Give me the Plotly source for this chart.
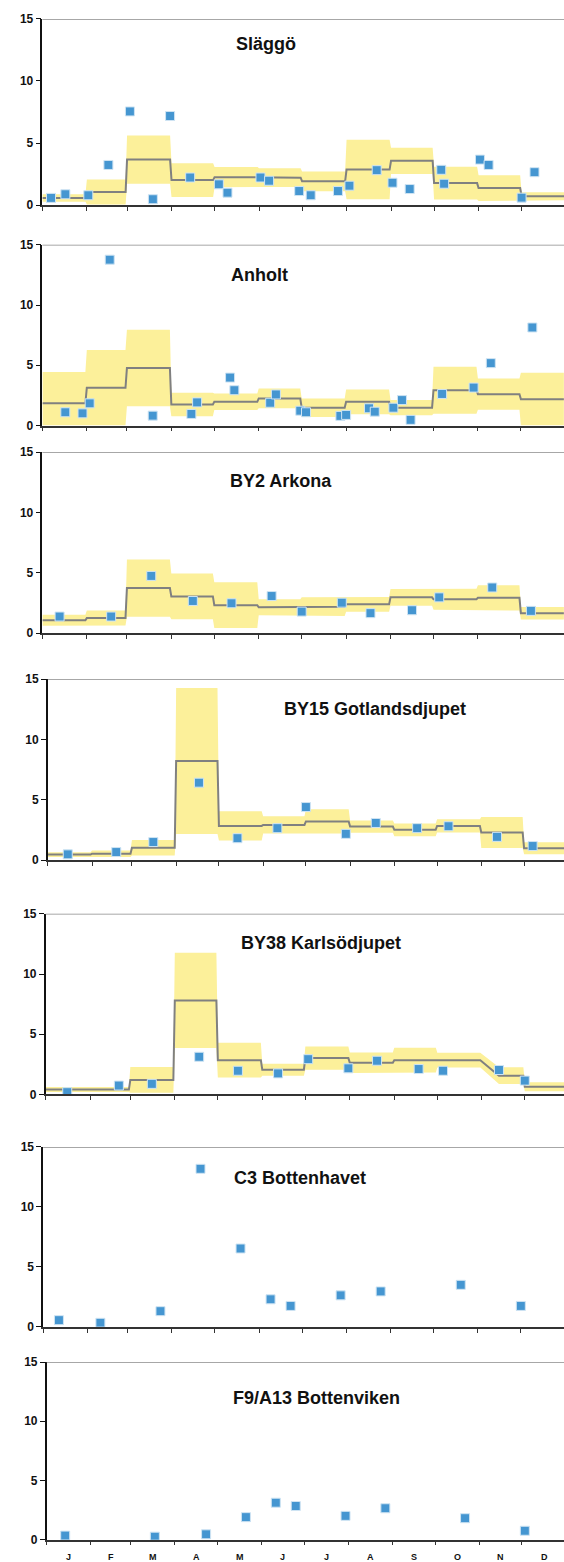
import plotly.graph_objects as go

# Day-of-year (0 = 1 Jan) at the start of each month; 365 closes December
MONTH_START = [0, 31, 59, 90, 120, 151, 181, 212, 243, 273, 304, 334, 365]
MONTH_LETTERS = ["J", "F", "M", "A", "M", "J", "J", "A", "S", "O", "N", "D"]

STATIONS = ["Släggö", "Anholt", "BY2 Arkona", "BY15 Gotlandsdjupet",
            "BY38 Karlsödjupet", "C3 Bottenhavet", "F9/A13 Bottenviken"]

# ---- Släggö ----
slaggo_day = [6, 16, 32, 46, 61, 77, 89, 103, 123, 129, 152, 158, 179, 187, 206,
              214, 233, 244, 256, 278, 280, 305, 311, 334, 343]
slaggo_val = [0.59, 0.88, 0.80, 3.24, 7.55, 0.48, 7.18, 2.23, 1.68, 1.01, 2.23, 1.97,
              1.14, 0.80, 1.14, 1.57, 2.82, 1.81, 1.30, 2.85, 1.73, 3.67, 3.24, 0.61, 2.66]
slaggo_mean = [0.58, 1.06, 3.67, 2.02, 2.26, 2.22, 1.92, 2.87, 3.57, 1.78, 1.38, 0.72]
slaggo_sd = [0.31, 1.00, 1.95, 1.36, 0.81, 0.75, 0.80, 2.40, 1.06, 1.32, 1.04, 0.32]

# ---- Anholt ----
anholt_day = [16, 28, 33, 47, 77, 104, 108, 131, 134, 159, 163, 180, 184, 208, 212,
              228, 232, 245, 251, 257, 279, 301, 313, 342]
anholt_val = [1.10, 1.01, 1.84, 13.77, 0.82, 0.96, 1.92, 3.98, 2.93, 1.89, 2.58, 1.23,
              1.10, 0.80, 0.88, 1.43, 1.15, 1.48, 2.11, 0.47, 2.62, 3.15, 5.18, 8.14]
anholt_mean = [1.84, 3.13, 4.77, 1.75, 1.97, 2.25, 1.48, 1.97, 1.48, 2.93, 2.60, 2.19]
anholt_sd = [2.60, 3.15, 3.18, 0.98, 0.69, 0.82, 0.77, 1.03, 0.63, 1.95, 1.30, 2.20]

# ---- BY2 Arkona ----
arkona_day = [12, 48, 76, 105, 132, 160, 181, 209, 229, 258, 277, 314, 341]
arkona_val = [1.37, 1.37, 4.74, 2.66, 2.47, 3.07, 1.78, 2.52, 1.65, 1.89, 2.96, 3.78, 1.84]
arkona_mean = [1.06, 1.24, 3.73, 3.04, 2.31, 2.14, 2.19, 2.38, 2.96, 2.80, 2.92, 1.65]
arkona_sd = [0.45, 0.62, 2.37, 1.90, 1.90, 0.67, 0.77, 0.62, 0.70, 0.87, 1.05, 0.52]

# ---- BY15 Gotlandsdjupet ----
gotland_day = [14, 48, 74, 106, 133, 161, 181, 209, 230, 259, 281, 315, 340]
gotland_val = [0.49, 0.68, 1.51, 6.43, 1.83, 2.66, 4.41, 2.19, 3.09, 2.66, 2.82, 1.94, 1.18]
gotland_mean = [0.47, 0.55, 1.04, 8.22, 2.85, 2.93, 3.22, 2.79, 2.52, 2.85, 2.30, 1.00]
gotland_sd = [0.20, 0.27, 0.64, 6.05, 1.22, 0.72, 1.01, 0.50, 0.53, 0.55, 1.28, 0.50]

# ---- BY38 Karlsödjupet ----
karlso_day = [15, 51, 74, 107, 134, 162, 183, 211, 231, 260, 277, 316, 334]
karlso_val = [0.19, 0.74, 0.88, 3.13, 1.97, 1.75, 2.93, 2.17, 2.80, 2.11, 1.97, 2.03, 1.15]
karlso_mean = [0.41, 0.41, 1.21, 7.81, 2.85, 2.06, 3.02, 2.64, 2.85, 2.85, 1.56, 0.64]
karlso_sd = [0.20, 0.20, 1.07, 3.95, 1.44, 0.50, 0.96, 0.85, 1.02, 0.62, 0.69, 0.37]
karlso_nov_start = 316  # November climatology begins mid-month

# ---- C3 Bottenhavet (observations only) ----
bottenhavet_day = [11, 40, 82, 110, 138, 159, 173, 208, 236, 292, 334]
bottenhavet_val = [0.55, 0.33, 1.30, 13.18, 6.53, 2.29, 1.74, 2.62, 2.95, 3.50, 1.74]

# ---- F9/A13 Bottenviken (observations only) ----
bottenviken_day = [13, 76, 112, 140, 161, 175, 210, 238, 294, 336]
bottenviken_val = [0.34, 0.25, 0.45, 1.90, 3.12, 2.84, 2.01, 2.65, 1.81, 0.75]

series = [
    (slaggo_day, slaggo_val, slaggo_mean, slaggo_sd, {}),
    (anholt_day, anholt_val, anholt_mean, anholt_sd, {}),
    (arkona_day, arkona_val, arkona_mean, arkona_sd, {}),
    (gotland_day, gotland_val, gotland_mean, gotland_sd, {}),
    (karlso_day, karlso_val, karlso_mean, karlso_sd, {10: karlso_nov_start}),
    (bottenhavet_day, bottenhavet_val, None, None, {}),
    (bottenviken_day, bottenviken_val, None, None, {}),
]

# Panel frames in page pixels: left edge, px per day, y of 15, y of 0
FIG_W, FIG_H = 564, 1562
panels = [
    (42.4, 1.4347, 12.0, 200.0),
    (42.4, 1.4326, 240.0, 422.3),
    (42.4, 1.4326, 449.3, 631.7),
    (47.8, 1.4260, 678.3, 861.0),
    (45.7, 1.4344, 915.0, 1097.3),
    (43.2, 1.4300, 1150.3, 1331.7),
    (46.7, 1.4230, 1367.3, 1546.5),
]
title_pos = [(266, 37), (259, 270), (281, 478), (375, 708), (321, 944), (300, 1182), (316, 1404)]

BAND = "#FCF09A"
STEP = "#808080"
DOT = "#4596D1"
FONT = "Liberation Sans, Arial, sans-serif"

fig = go.Figure()
annotations = []
shapes = []

for i, ((days, vals, mean, sd, starts), (left, ppd, y15, y0)) in enumerate(zip(series, panels)):
    n = i + 1
    xa = "x" if n == 1 else f"x{n}"
    ya = "y" if n == 1 else f"y{n}"

    if mean is not None:
        sx, upper, lower, line_y = [], [], [], []
        for m in range(12):
            s = starts.get(m, MONTH_START[m])
            e = MONTH_START[m + 1] - 1
            hi = mean[m] + sd[m]
            lo = max(mean[m] - sd[m], 0.0)
            for d in (s, e):
                sx.append(d)
                upper.append(hi)
                lower.append(lo)
                line_y.append(mean[m])
        fig.add_trace(go.Scatter(
            x=sx + sx[::-1], y=upper + lower[::-1], fill="toself",
            fillcolor=BAND, line=dict(width=0), mode="lines",
            hoverinfo="skip", showlegend=False, xaxis=xa, yaxis=ya))
        fig.add_trace(go.Scatter(
            x=sx, y=line_y, mode="lines", line=dict(color=STEP, width=2),
            showlegend=False, xaxis=xa, yaxis=ya))

    fig.add_trace(go.Scatter(
        x=days, y=vals, mode="markers",
        marker=dict(symbol="square", size=9, color=DOT,
                    line=dict(color="#cfe4f3", width=1)),
        showlegend=False, xaxis=xa, yaxis=ya))

    xkey = "xaxis" if n == 1 else f"xaxis{n}"
    ykey = "yaxis" if n == 1 else f"yaxis{n}"
    fig.layout[xkey] = dict(
        domain=[left / FIG_W, 1.0], range=[0, (FIG_W - left) / ppd],
        anchor=ya, tickmode="array", tickvals=MONTH_START[:12],
        showticklabels=False, ticks="outside", ticklen=4, tickwidth=1.2,
        tickcolor="#333", showline=True, linecolor="#333", linewidth=1.5,
        showgrid=False, zeroline=False, fixedrange=True)
    fig.layout[ykey] = dict(
        domain=[1 - y0 / FIG_H, 1 - y15 / FIG_H], range=[0, 15],
        anchor=xa, tickmode="array", tickvals=[0, 5, 10, 15],
        ticks="outside", ticklen=5, tickwidth=1.2, tickcolor="#111",
        showline=True, linecolor="#111", linewidth=1.5,
        tickfont=dict(family=FONT, size=12, color="#111", weight="bold"),
        showgrid=False, zeroline=False, fixedrange=True)

    # upper frame edge
    shapes.append(dict(type="line", xref=f"{xa} domain", yref=ya,
                       x0=0, x1=1, y0=15, y1=15,
                       line=dict(color="#8a8a8a", width=1.5)))

    tx, ty = title_pos[i]
    annotations.append(dict(
        text=STATIONS[i], xref="paper", yref="paper",
        x=tx / FIG_W, y=1 - ty / FIG_H, xanchor="center", yanchor="middle",
        showarrow=False, font=dict(family=FONT, size=18, color="#111", weight="bold")))

# month initials under the bottom panel
for m in range(12):
    mid = (MONTH_START[m] + MONTH_START[m + 1]) / 2
    annotations.append(dict(
        text=MONTH_LETTERS[m], xref="x7", yref="paper",
        x=mid, y=1 - 1557 / FIG_H, xanchor="center", yanchor="top",
        showarrow=False, font=dict(family=FONT, size=9, color="#111", weight="bold")))

fig.update_layout(
    width=FIG_W, height=FIG_H,
    margin=dict(l=0, r=0, t=0, b=0),
    paper_bgcolor="white", plot_bgcolor="white",
    annotations=annotations, shapes=shapes,
    showlegend=False,
)

fig.write_html("out.html")
